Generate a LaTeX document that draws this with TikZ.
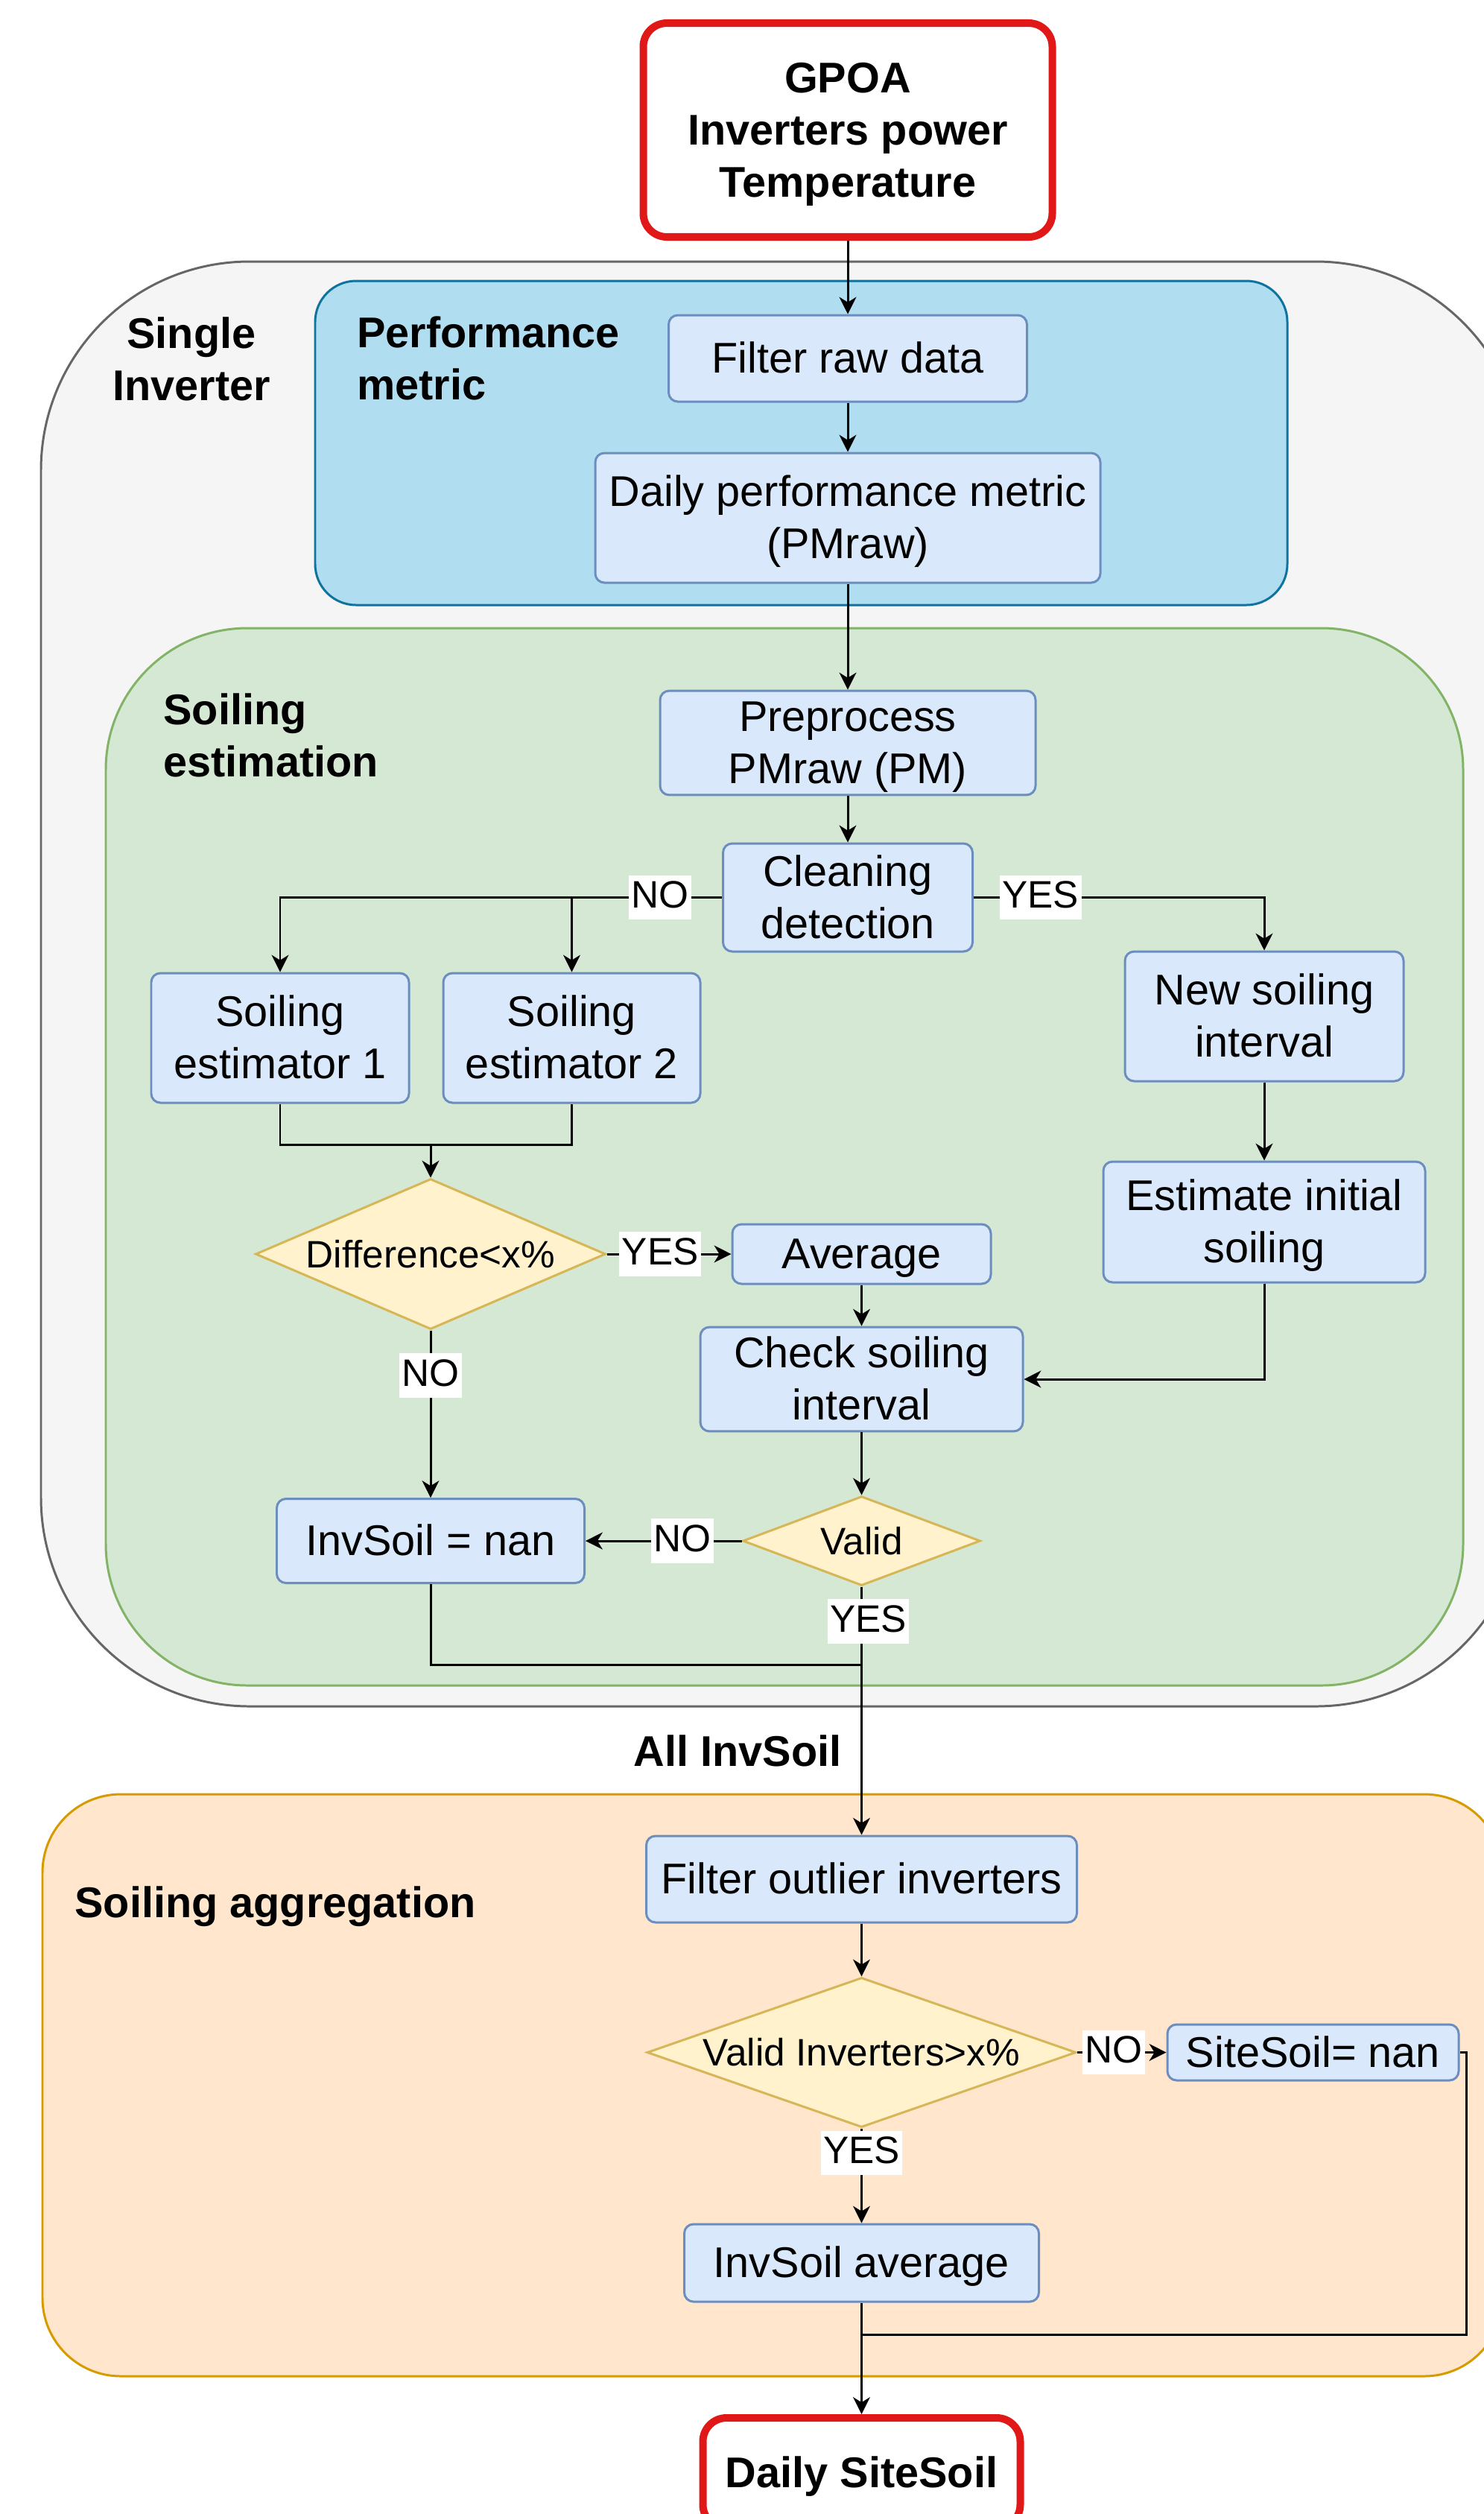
\documentclass[tikz,border=0pt]{standalone}
\usepackage{fontspec}
\setmainfont{Liberation Sans}
\usepackage{tikz}
\usetikzlibrary{shapes,calc,positioning,arrows.meta}
\definecolor{boxfill}{HTML}{DAE8FC}
\definecolor{boxline}{HTML}{6C8EBF}
\definecolor{dfill}{HTML}{FFF2CC}
\definecolor{dline}{HTML}{D6B656}
\definecolor{iored}{HTML}{E01818}
\definecolor{grayfill}{HTML}{F5F5F5}
\definecolor{grayline}{HTML}{666666}
\definecolor{bluefill}{HTML}{B1DDF0}
\definecolor{blueline}{HTML}{10739E}
\definecolor{greenfill}{HTML}{D5E8D4}
\definecolor{greenline}{HTML}{82B366}
\definecolor{orangefill}{HTML}{FFE6CC}
\definecolor{orangeline}{HTML}{D79B00}

\begin{document}
\begin{tikzpicture}[>={Stealth[length=6.5pt,width=6.5pt,inset=2pt]}, line width=0.85pt]
\tikzstyle{sn}=[draw=boxline,fill=boxfill,rounded corners=3.5pt,align=center,inner sep=0pt,font=\fontsize{16.4}{19.9}\selectfont]
\tikzstyle{dn}=[diamond,draw=dline,fill=dfill,inner sep=0pt,font=\fontsize{14.6}{17}\selectfont]
\tikzstyle{io}=[draw=iored,line width=2.85pt,rounded corners=9pt,fill=white,align=center,inner sep=0pt,font=\bfseries\fontsize{16.4}{19.9}\selectfont]
\tikzstyle{yn}=[fill=white,inner xsep=1pt,inner ysep=1.5pt,text height=11pt,text depth=3pt,font=\fontsize{14.6}{17}\selectfont]
\tikzstyle{grp}=[align=left,inner sep=0pt,font=\bfseries\fontsize{16.4}{19.9}\selectfont]
\tikzstyle{l1}=[text height=15.6pt,text depth=4.3pt]
\tikzstyle{l2}=[text height=35.5pt,text depth=4.3pt]
\tikzstyle{l3}=[text height=55.4pt,text depth=4.3pt]
\useasboundingbox (0,0) rectangle (19.92,-33.74);
\clip (0,0) rectangle (19.92,-33.74);
\draw[draw=grayline,fill=grayfill,rounded corners=2.8cm] (0.55,-3.51) rectangle (20.46,-22.90);
\draw[draw=blueline,fill=bluefill,rounded corners=0.55cm] (4.23,-3.77) rectangle (17.28,-8.12);
\draw[draw=greenline,fill=greenfill,rounded corners=1.9cm] (1.42,-8.43) rectangle (19.64,-22.62);
\draw[draw=orangeline,fill=orangefill,rounded corners=1.05cm] (0.57,-24.08) rectangle (20.17,-31.89);
\node[grp,align=center] (si) at (2.57,-4.82) {Single\\Inverter};
\node[grp,anchor=west] (pt) at (4.78,-4.81) {Performance\\metric};
\node[grp,anchor=west] (st) at (2.18,-9.87) {Soiling\\estimation};
\node[grp,anchor=west] (at) at (0.99,-25.59) {Soiling aggregation};
\node[grp,anchor=east] (all) at (11.31,-23.50) {All InvSoil};
\node[io,l3,minimum width=5.49cm,minimum height=2.87cm] (in) at (11.38,-1.745) {GPOA\\Inverters power\\Temperature};
\node[sn,l1,minimum width=4.81cm,minimum height=1.16cm] (f1) at (11.38,-4.81) {Filter raw data};
\node[sn,l2,minimum width=6.78cm,minimum height=1.74cm] (pm) at (11.38,-6.95) {Daily performance metric\\(PMraw)};
\node[sn,l2,minimum width=5.04cm,minimum height=1.34cm] (pp) at (11.38,-9.97) {Preprocess\\PMraw (PM)};
\node[sn,l2,minimum width=3.35cm,minimum height=1.45cm] (cd) at (11.38,-12.045) {Cleaning\\detection};
\node[sn,l2,minimum width=3.46cm,minimum height=1.74cm] (e1) at (3.76,-13.93) {Soiling\\estimator 1};
\node[sn,l2,minimum width=3.45cm,minimum height=1.74cm] (e2) at (7.675,-13.93) {Soiling\\estimator 2};
\node[sn,l2,minimum width=3.74cm,minimum height=1.74cm] (ns) at (16.97,-13.64) {New soiling\\interval};
\node[sn,l2,minimum width=4.32cm,minimum height=1.62cm] (ei) at (16.97,-16.40) {Estimate initial\\soiling};
\node[dn,aspect=2.33,minimum width=4.70cm,minimum height=2.02cm] (d1) at (5.78,-16.83) {Difference<x\%};
\node[sn,l1,minimum width=3.47cm,minimum height=0.80cm] (av) at (11.565,-16.83) {Average};
\node[sn,l2,minimum width=4.33cm,minimum height=1.34cm] (cs) at (11.565,-18.51) {Check soiling\\interval};
\node[sn,l1,minimum width=4.13cm,minimum height=1.13cm] (n1) at (5.78,-20.68) {InvSoil = nan};
\node[dn,aspect=2.66,minimum width=3.19cm,minimum height=1.20cm] (vd) at (11.565,-20.68) {Valid};
\node[sn,l1,minimum width=5.78cm,minimum height=1.16cm] (fo) at (11.565,-25.22) {Filter outlier inverters};
\node[dn,aspect=2.87,minimum width=5.76cm,minimum height=2.01cm] (d2) at (11.565,-27.545) {Valid Inverters>x\%};
\node[sn,l1,minimum width=3.91cm,minimum height=0.75cm] (n2) at (17.625,-27.545) {SiteSoil= nan};
\node[sn,l1,minimum width=4.76cm,minimum height=1.04cm] (ia) at (11.565,-30.37) {InvSoil average};
\node[io,l1,minimum width=4.26cm,minimum height=1.48cm] (out) at (11.565,-33.19) {Daily SiteSoil};
\coordinate (m1) at ($(d1.north)+(0,0.44)$);
\coordinate (m2) at ($(vd.south)+(0,-1.05)$);
\coordinate (m3) at ($(ia.south)+(0,-0.43)$);
\draw[->] (in) -- (f1);
\draw[->] (f1) -- (pm);
\draw[->] (pm) -- (pp);
\draw[->] (pp) -- (cd);
\draw (cd.west) -- node[yn,pos=0.41]{NO} (e2 |- cd.west);
\draw[->] (e2 |- cd.west) -- (e2);
\draw[->] (e2 |- cd.west) -| (e1);
\draw[->] (cd.east) -| node[yn,pos=0.115]{YES} (ns);
\draw (e1.south) |- (m1) -| (e2.south);
\draw[->] (m1) -- (d1);
\draw[->] (ns) -- (ei);
\draw[->] (ei) |- (cs);
\draw[->] (d1.east) -- node[yn,pos=0.43]{YES} (av.west);
\draw[->] (av) -- (cs);
\draw[->] (d1) -- node[yn,pos=0.27]{NO} (n1);
\draw[->] (cs) -- (vd);
\draw[->] (vd) -- node[yn,pos=0.38]{NO} (n1);
\draw (n1) |- (m2);
\draw[->] (vd) -- node[yn,pos=0.14,xshift=0.9mm]{YES} (fo);
\draw[->] (fo) -- (d2);
\draw[->] (d2) -- node[yn,pos=0.41]{NO} (n2);
\draw[->] (d2) -- node[yn,pos=0.26]{YES} (ia);
\draw (n2.east) -- ++(0.09,0) |- (m3);
\draw[->] (ia) -- (out);
\end{tikzpicture}
\end{document}
